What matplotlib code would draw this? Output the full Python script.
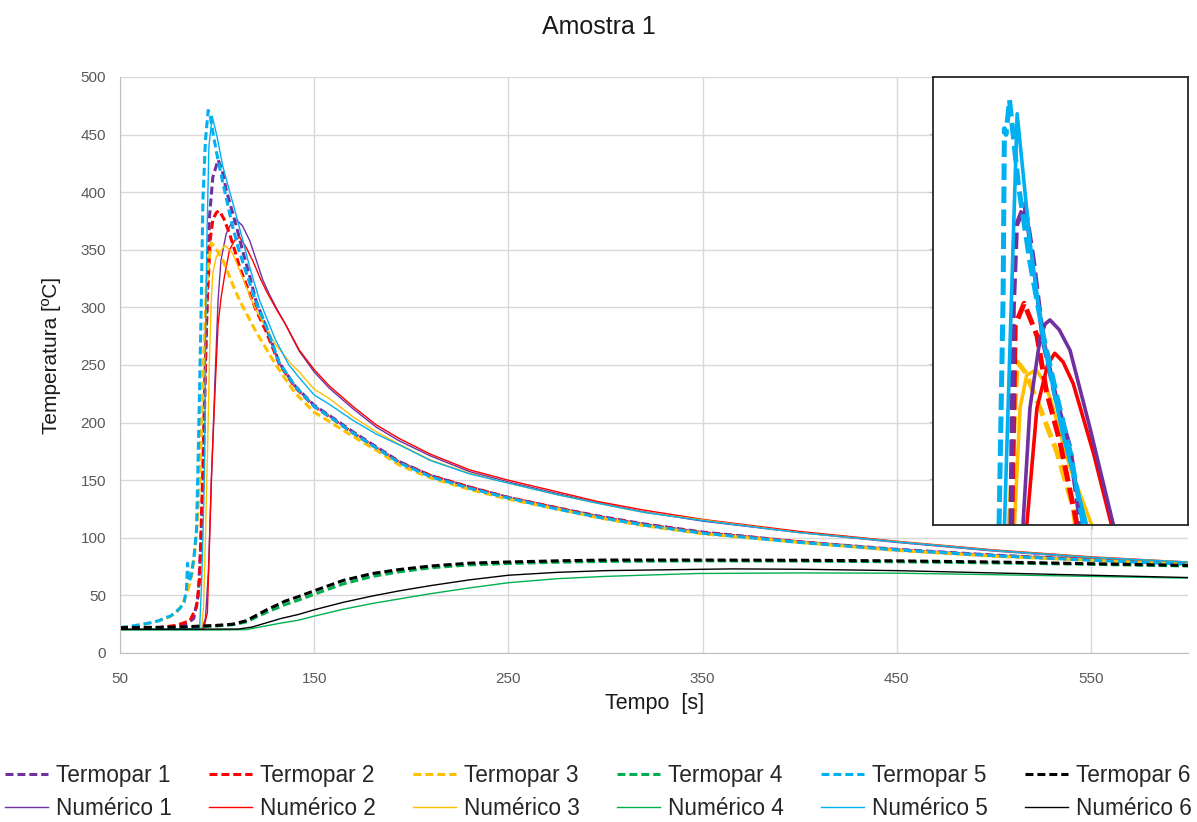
import matplotlib
matplotlib.use('Agg')
import matplotlib.pyplot as plt

plt.rcParams['font.family'] = ['Liberation Sans', 'DejaVu Sans']

# --- main chart data (Tempo [s], Temperatura [ºC]) ---
t_t1 = [50, 60, 70, 80, 85, 88, 90.2, 91.5, 92.8, 94, 95.3, 96.1, 97.8, 100.5, 102.5, 104.7, 107, 110, 113,
        116.8, 120, 125, 132, 140, 150, 158, 170, 182, 194, 210, 230, 250, 275, 296, 320, 350, 400, 450, 500, 550, 600]
y_t1 = [21.5, 21.5, 22, 23.5, 26, 30, 49, 90, 150, 250, 335, 379, 413, 428, 420, 402, 388, 370, 350,
        327, 306, 284, 252, 232, 215, 206, 192, 179, 166, 154, 144, 135, 126, 119, 112, 105, 96.5, 90, 85, 81, 77.5]

t_t2 = [50, 70, 79, 86, 89.4, 91, 92.5, 93.6, 95, 95.8, 96.4, 97.8, 99.5, 101, 103.5, 106.4, 109, 111.6,
        116.8, 120, 125, 132, 140, 150, 158, 170, 182, 194, 210, 230, 250, 275, 296, 320, 350, 400, 450, 500, 550, 600]
y_t2 = [21.5, 22, 24, 28, 40, 63, 150, 230, 310, 335, 358, 376, 382, 384, 377, 364, 350, 335,
        312, 298, 280, 251, 231, 214, 205, 191, 178, 165.5, 154, 144, 135, 126, 118.5, 111.5, 104.5, 96.5, 89.5, 84.5, 81, 77.5]

t_t3 = [50, 60, 65, 70, 75, 79, 82.5, 85, 87, 89, 90, 91, 93, 94.5, 95.8, 97, 99, 103, 108, 111.6,
        120, 130.3, 140, 150, 157.7, 170, 182, 194, 210, 230, 250, 275, 296, 320, 350, 400, 450, 500, 550, 600]
y_t3 = [22, 24, 26, 28, 31, 35, 43, 55, 68, 95, 120, 150, 250, 320, 340, 356, 352, 341, 320, 306,
        279, 250, 226, 209, 201, 188, 176, 163, 152, 142, 133.5, 125, 117.5, 110.5, 103.5, 96, 89, 84, 80.5, 77]

t_t4 = [50, 80, 100, 108, 115, 125, 135, 142, 150, 165, 180, 194, 210, 230, 250, 275, 300, 350, 400, 450, 500, 550, 600]
y_t4 = [21.5, 22, 23.5, 24.5, 27, 35, 42, 46, 51, 60, 66.5, 70.5, 74, 76.5, 77.7, 78.8, 79.5, 80, 79.8, 79.2, 78.2, 77, 75.5]

t_t5 = [50, 55, 60, 65, 70, 73, 76, 79, 81, 83, 84.2, 84.8, 85.4, 86.5, 88, 89.4, 90, 91, 91.9, 92.7,
        94, 95.4, 96.5, 97.9, 100, 103, 106, 108, 111, 115, 120, 125, 132, 140, 150, 158, 170, 182, 194, 210,
        230, 250, 275, 296, 320, 350, 400, 450, 500, 550, 600]
y_t5 = [22, 23, 24.5, 26, 28, 30.5, 32, 36, 39, 44, 55, 78, 62, 66, 82, 107, 150, 230, 309, 393,
        445, 471, 466, 451, 432, 408, 385, 370, 351, 330, 305, 285, 252, 232, 214, 205, 191, 178, 165, 153,
        143, 134.5, 125, 118, 111, 104, 96, 89.5, 84.5, 80.5, 77]

t_t6 = [50, 80, 100, 108, 115, 125, 135, 142, 150, 165, 180, 194, 210, 230, 250, 275, 300, 350, 400, 450, 500, 550, 600]
y_t6 = [22, 22.5, 24, 25, 28, 37, 45, 49, 54, 63, 69, 72.5, 75.5, 78, 79, 80, 80.7, 80.7, 80.5, 80, 79, 77.5, 76]

t_n1 = [50, 92, 94, 95.5, 96.5, 97.5, 99, 100.5, 102, 104.7, 107, 110, 113, 116.8, 120, 123.5, 127, 131, 135,
        142.3, 150, 157.7, 170, 182, 194, 210, 230, 250, 275, 296, 320, 350, 400, 450, 500, 550, 600]
y_n1 = [20.5, 20.5, 30, 70, 120, 170, 240, 306, 341, 364, 372, 376, 371, 358, 342, 324, 311, 298, 286,
        262, 244, 230, 212, 196, 184, 171, 157.5, 148.5, 138.5, 130.5, 122.5, 114.5, 104.5, 96, 88.5, 82.5, 78]

t_n2 = [50, 93, 95, 96, 97, 99, 100.5, 102, 103.8, 106.4, 109, 111.6, 115, 118.5, 122, 125.4, 131, 135,
        142.3, 150, 157.7, 170, 182, 194, 210, 230, 250, 275, 296, 320, 350, 400, 450, 500, 550, 600]
y_n2 = [20.5, 20.5, 35, 90, 150, 230, 285, 308, 327, 350, 358, 361, 352, 340, 326, 314, 297, 286,
        263, 246, 232, 214, 198, 186, 172.5, 159, 150, 140, 131.5, 124, 116, 105.5, 97, 89.5, 83.5, 79]

t_n3 = [50, 92, 93, 94, 95, 96, 97, 97.8, 99.6, 104, 108, 115, 120, 130, 138.6, 142.3, 150, 157.7, 170,
        182, 194, 210, 230, 250, 275, 296, 320, 350, 400, 450, 500, 550, 600]
y_n3 = [20.5, 21, 40, 100, 170, 250, 306, 330, 344, 354, 347, 318, 298, 268, 250, 244, 229, 221, 205,
        192, 181, 167.5, 156, 147.5, 137.5, 130, 122, 115.5, 104.5, 96.6, 89, 83, 79]

t_n4 = [50, 100, 115, 125, 133, 142, 150, 165, 180, 194, 210, 230, 250, 275, 300, 347, 400, 450, 500, 550, 600]
y_n4 = [20, 20, 20.3, 23.5, 26, 28.5, 32, 38, 43, 47, 51.5, 56.5, 61, 64.5, 66.5, 69, 69.5, 69.3, 68, 66.5, 65]

t_n5 = [50, 91, 92, 93, 93.6, 94.2, 94.8, 95.8, 97.5, 100, 103, 110, 116.8, 121.9, 130, 137, 142.3, 150, 157.7,
        170, 182, 194, 210, 230, 250, 275, 296, 320, 350, 400, 450, 500, 550, 600]
y_n5 = [20.5, 21, 60, 120, 170, 300, 364, 440, 466, 448, 422, 379, 335, 306, 272, 250, 239, 224, 216,
        202, 190, 180.5, 167, 155.5, 147.5, 137.5, 130, 122, 115, 104.5, 96.5, 89, 83, 79]

t_n6 = [50, 111, 118, 125, 133, 142, 150, 165, 180, 194, 210, 230, 250, 275, 300, 347, 365, 400, 450, 500, 550, 600]
y_n6 = [20.5, 20.8, 22.5, 26, 30, 33.5, 37.5, 44, 49.5, 54, 58.5, 63.5, 67.5, 70, 71.5, 72.6, 73, 72.7, 71.5, 69.5, 67.5, 65.5]

# --- inset (zoom on the peaks) ---
it_t1 = [97.2, 97.6, 98.1, 99.4, 100.7, 102.3, 104.4, 106.5, 108.1, 108.3]
iy_t1 = [90, 299, 371, 389, 342, 270, 217, 177, 113, 90]
it_t2 = [97.3, 97.9, 99.3, 101.3, 102.8, 104.9, 107.5, 107.7]
iy_t2 = [90, 284, 303, 275, 226, 182.5, 113, 90]
it_t3 = [96.8, 98.2, 99.5, 101.8, 104.4, 107.0, 107.8]
iy_t3 = [90, 252, 243, 211.6, 174, 125, 90]
it_t5 = [95.3, 96.0, 96.2, 96.45, 97.0, 98.4, 100.2, 102.3, 104.4, 106.5, 108.5, 109.0]
iy_t5 = [90, 310, 455, 450, 480, 406, 339, 275, 223, 174, 113, 90]
it_n1 = [98.9, 100.2, 101.8, 102.6, 103.35, 104.8, 106.5, 109.6, 113.3, 113.6]
iy_n1 = [90, 211.6, 272.8, 285, 288.5, 280, 262, 195, 110, 90]
it_n2 = [99.4, 101.3, 103.0, 104.1, 105.4, 107.0, 110.2, 113.0, 113.3]
iy_n2 = [90, 211.6, 250, 259.5, 252, 233, 172, 110, 90]
it_n3 = [97.6, 98.65, 99.7, 101.2, 102.3, 103.4, 106.5, 109.9, 110.1]
iy_n3 = [90, 211.6, 240.6, 245, 236, 220, 160, 110, 90]
it_n5 = [96.1, 98.2, 100.2, 102.3, 105.4, 109.1, 109.4]
iy_n5 = [90, 468, 357, 270, 188, 110, 90]

purple = '#7030A0'
red = '#FF0000'
yellow = '#FFC000'
green = '#00B050'
blue = '#00B0F0'
black = '#000000'
grid_grey = '#D9D9D9'
text_grey = '#595959'

series = [
    ('Termopar 1', t_t1, y_t1, purple, '--'), ('Numérico 1', t_n1, y_n1, purple, '-'),
    ('Termopar 2', t_t2, y_t2, red, '--'), ('Numérico 2', t_n2, y_n2, red, '-'),
    ('Termopar 3', t_t3, y_t3, yellow, '--'), ('Numérico 3', t_n3, y_n3, yellow, '-'),
    ('Termopar 4', t_t4, y_t4, green, '--'), ('Numérico 4', t_n4, y_n4, green, '-'),
    ('Termopar 5', t_t5, y_t5, blue, '--'), ('Numérico 5', t_n5, y_n5, blue, '-'),
    ('Termopar 6', t_t6, y_t6, black, '--'), ('Numérico 6', t_n6, y_n6, black, '-'),
]

fig = plt.figure(figsize=(11.97, 8.22), dpi=100)
ax = fig.add_axes([120 / 1197, 1 - 653 / 822, 1068 / 1197, 576 / 822])

handles = []
for label, t, y, color, ls in series:
    if ls == '--':
        line, = ax.plot(t, y, color=color, lw=2.2, ls='--', dashes=(2.6, 1.3), label=label)
    else:
        line, = ax.plot(t, y, color=color, lw=1.0, label=label)
    handles.append(line)

ax.set_xlim(50, 600)
ax.set_ylim(0, 500)
ax.set_xticks(range(50, 600, 100))
ax.set_yticks(range(0, 501, 50))
ax.grid(True, color=grid_grey, lw=1)
ax.set_axisbelow(True)
for side in ['top', 'right']:
    ax.spines[side].set_visible(False)
for side in ['left', 'bottom']:
    ax.spines[side].set_color('#BFBFBF')
ax.tick_params(length=0, labelsize=11, colors=text_grey)
ax.tick_params(axis='x', pad=14)
ax.tick_params(axis='y', pad=10)

fig.text(0.5, 1 - 27 / 822, 'Amostra 1', ha='center', va='center', fontsize=18, color='#1a1a1a')
fig.text(655 / 1197, 1 - 703 / 822, 'Tempo  [s]', ha='center', va='center', fontsize=15.5, color='#1a1a1a')
fig.text(52 / 1197, 1 - 355 / 822, 'Temperatura [ºC]', ha='center', va='center', rotation=90,
         fontsize=15, color='#1a1a1a')

# inset
axi = fig.add_axes([933 / 1197, 1 - 525 / 822, 255 / 1197, 448 / 822])
axi.set_facecolor('white')
inset_series = [
    (it_t3, iy_t3, yellow, '--'), (it_n3, iy_n3, yellow, '-'),
    (it_t2, iy_t2, red, '--'), (it_n2, iy_n2, red, '-'),
    (it_t1, iy_t1, purple, '--'), (it_n1, iy_n1, purple, '-'),
    (it_t5, iy_t5, blue, '--'), (it_n5, iy_n5, blue, '-'),
]
for t, y, color, ls in inset_series:
    if ls == '--':
        axi.plot(t, y, color=color, lw=3.6, ls='--', dashes=(3.3, 1.3))
    else:
        axi.plot(t, y, color=color, lw=2.6)
axi.set_xlim(85, 125)
axi.set_ylim(110, 500)
axi.set_xticks([110])
axi.set_yticks(range(150, 500, 50))
axi.tick_params(labelleft=False, labelbottom=False, length=3, color='#BFBFBF', direction='out')
for s in axi.spines.values():
    s.set_color('#262626')
    s.set_linewidth(1.3)

fig.legend(handles=handles, loc='center', bbox_to_anchor=(0.5, 1 - 792 / 822), ncol=6, frameon=False,
           fontsize=16.3, handlelength=1.9, handletextpad=0.35, columnspacing=1.65, labelspacing=0.45,
           borderpad=0.2, labelcolor='#262626')

fig.savefig('out.png', dpi=100)
